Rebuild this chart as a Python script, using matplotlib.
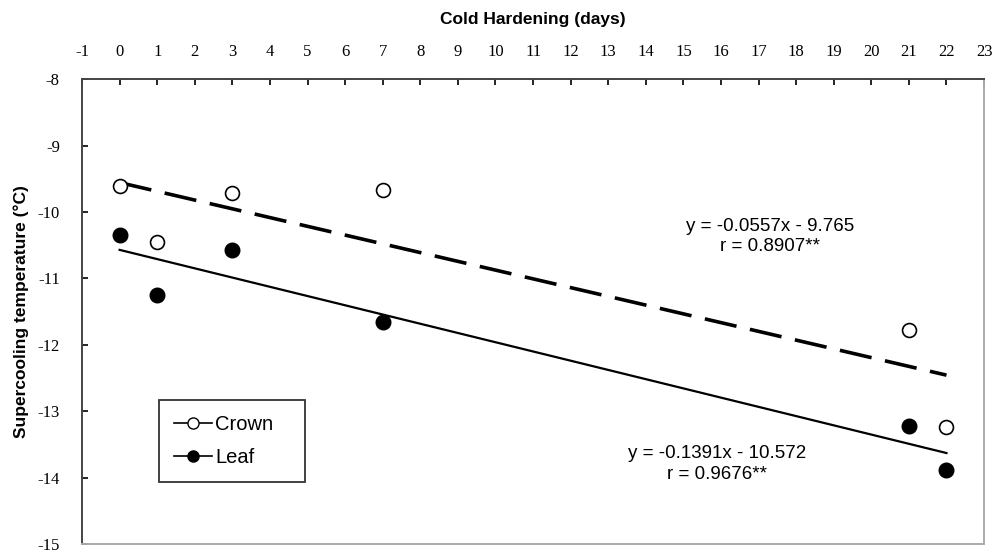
import numpy as np
import matplotlib.pyplot as plt

plt.rcParams["axes.unicode_minus"] = False

days = np.array([0, 1, 3, 7, 21, 22])
crown = np.array([-9.61, -10.45, -9.72, -9.67, -11.77, -13.24])
leaf = np.array([-10.34, -11.25, -10.58, -11.66, -13.22, -13.88])

crown_eq = "y = -0.0557x - 9.765\nr = 0.8907**"
leaf_eq = "y = -0.1391x - 10.572\nr = 0.9676**"

fig = plt.figure(figsize=(9.92, 5.53), dpi=100)
ax = fig.add_axes([0.0827, 0.016, 0.9093, 0.841])

# trend lines from a least squares fit
cfit = np.polyfit(days, crown, 1)
lfit = np.polyfit(days, leaf, 1)
xl = np.array([days.min(), days.max()])
ax.plot(xl, np.polyval(cfit, xl), color="black", lw=2.6, dashes=(9, 3.8))
ax.plot(xl, np.polyval(lfit, xl), color="black", lw=1.6)

ax.plot(days, crown, "o", mfc="white", mec="black", mew=1.2, ms=10)
ax.plot(days, leaf, "o", mfc="black", mec="black", ms=10.5)

# legend handles
h1, = ax.plot([], [], "-o", color="black", mfc="white", mec="black", ms=8, lw=1.2)
h2, = ax.plot([], [], "-o", color="black", mfc="black", ms=8, lw=1.2)
leg = ax.legend([h1, h2], ["Crown   ", "Leaf"], loc="upper left",
                bbox_to_anchor=(0.085, 0.311), borderaxespad=0, fancybox=False,
                framealpha=1, edgecolor="#333333", handlelength=1.9,
                handletextpad=0.15, borderpad=0.75, labelspacing=0.7,
                prop={"family": "Liberation Sans", "size": 14.5})
leg.get_frame().set_linewidth(1.3)

ax.text(17.3, -10.37, crown_eq, ha="center", va="center", fontsize=13.5,
        family="Liberation Sans", linespacing=1.3)
ax.text(15.9, -13.79, leaf_eq, ha="center", va="center", fontsize=13.5,
        family="Liberation Sans", linespacing=1.3)

ax.set_xlim(-1, 23)
ax.set_ylim(-15, -8)
ax.set_xticks(np.arange(-1, 24))
ax.set_yticks(np.arange(-15, -7))
ax.xaxis.tick_top()
ax.xaxis.set_label_position("top")
ax.tick_params(axis="x", direction="in", length=4, width=1.2, pad=14, top=True, bottom=False)
ax.tick_params(axis="y", direction="in", length=4, width=1.2, pad=16)
for lab in ax.get_xticklabels() + ax.get_yticklabels():
    lab.set_family("Liberation Serif")
    lab.set_fontsize(12)

for s in ["left", "top"]:
    ax.spines[s].set_color("#444444")
    ax.spines[s].set_linewidth(1.4)
for s in ["right", "bottom"]:
    ax.spines[s].set_color("#aaaaaa")
    ax.spines[s].set_linewidth(1.4)

ax.set_xlabel("Cold Hardening (days)", fontsize=12.5, fontweight="bold",
              family="Liberation Sans", labelpad=14)
ax.set_ylabel("Supercooling temperature (\u00b0C)", fontsize=12.5, fontweight="bold",
              family="Liberation Sans", labelpad=6)

fig.savefig("out.png", dpi=100)
